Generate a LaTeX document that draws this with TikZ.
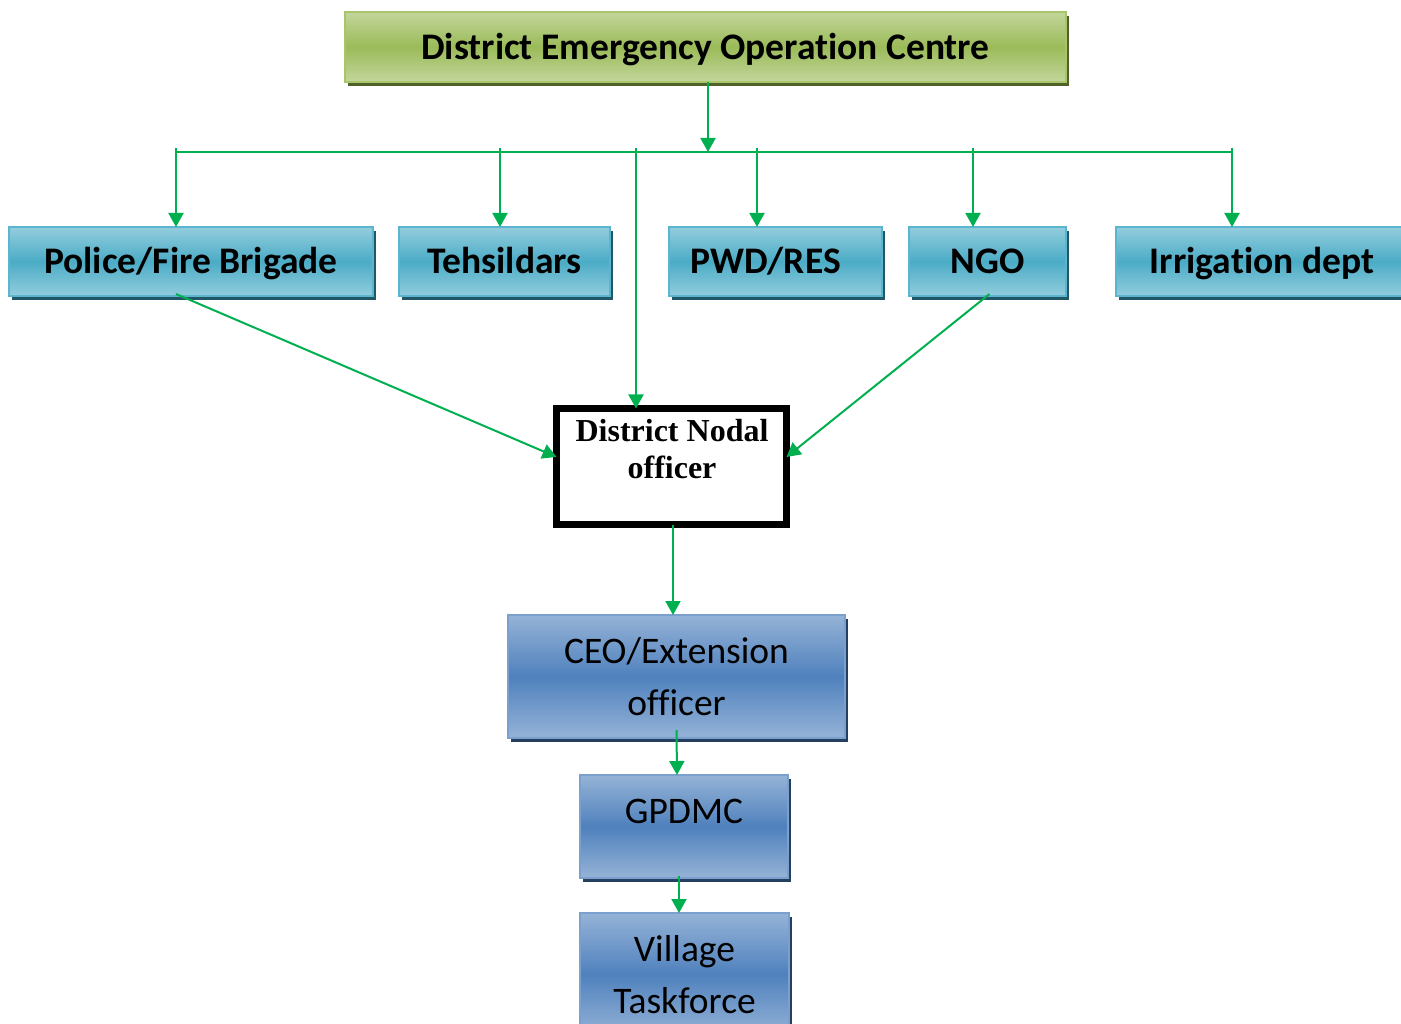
\documentclass[tikz,border=0pt]{standalone}
\usepackage{fontspec}
\setmainfont{Carlito}[Ligatures=NoCommon]
\newfontfamily\timesfont{Liberation Serif}
\usetikzlibrary{arrows.meta,shadows}

\definecolor{flowgreen}{HTML}{00B050}
\definecolor{greenlt}{HTML}{C3D69B}
\definecolor{greenmd}{HTML}{9BBB59}
\definecolor{greenbd}{HTML}{A9C46A}
\definecolor{greendk}{HTML}{4F6228}
\definecolor{teallt}{HTML}{93CDDD}
\definecolor{tealmd}{HTML}{4BACC6}
\definecolor{tealbd}{HTML}{5BB5CE}
\definecolor{tealdk}{HTML}{215868}
\definecolor{bluelt}{HTML}{95B3D7}
\definecolor{bluemd}{HTML}{4F81BD}
\definecolor{bluebd}{HTML}{7BA0CD}
\definecolor{bluedk}{HTML}{243F60}

% lower a label inside its box without changing the box's extent
\newcommand{\dropped}[2]{\raisebox{-#1}[\height][\depth]{#2}}

\tikzset{
  gbox/.style={draw=greenbd, line width=2pt, top color=greenlt, bottom color=greenlt,
    middle color=greenmd, outer sep=0pt, inner sep=0pt,
    drop shadow={shadow xshift=3pt, shadow yshift=-4pt, fill=greendk, opacity=1},
    font=\fontsize{37.5}{42}\selectfont\bfseries},
  tbox/.style={draw=tealbd, line width=2pt, top color=teallt, bottom color=teallt,
    middle color=tealmd, outer sep=0pt, inner sep=0pt, text height=27pt, text depth=8pt,
    drop shadow={shadow xshift=3pt, shadow yshift=-4pt, fill=tealdk, opacity=1},
    font=\fontsize{37.5}{42}\selectfont\bfseries},
  bbox/.style={draw=bluebd, line width=2pt, top color=bluelt, bottom color=bluelt,
    middle color=bluemd, outer sep=0pt, inner sep=0pt,
    drop shadow={shadow xshift=3pt, shadow yshift=-4pt, fill=bluedk, opacity=1}},
  btext/.style={font=\fontsize{37.5}{52}\selectfont, align=center, inner sep=0pt},
  nodalbox/.style={draw=black, line width=7pt, fill=white, outer sep=0pt, inner sep=0pt},
  flow/.style={draw=flowgreen, line width=2pt, -{Triangle[length=14pt,width=15pt]}},
  bus/.style={draw=flowgreen, line width=2pt},
}

\begin{document}
\begin{tikzpicture}[x=1pt,y=-1pt]
\useasboundingbox (0,0) rectangle (1401,1024);

% top level centre
\node[gbox, minimum width=721, minimum height=70] (deoc) at (705.5,47) {\dropped{3pt}{District Emergency Operation Centre}};

% line departments
\node[tbox, minimum width=364, minimum height=69] (police) at (191,261.5) {\dropped{3pt}{Police/Fire Brigade}};
\node[tbox, minimum width=211, minimum height=69] (tehsil) at (504.5,261.5) {\dropped{3pt}{Tehsildars}};
\node[tbox, minimum width=213, minimum height=69] (pwd) at (775.5,261.5) {\dropped{3pt}{\hspace*{-20pt}PWD/RES}};
\node[tbox, minimum width=157, minimum height=69] (ngo) at (987.5,261.5) {\dropped{3pt}{NGO}};
\node[tbox, minimum width=300, minimum height=69] (irr) at (1266,261.5) {\dropped{3pt}{\hspace*{-8pt}Irrigation dept}};

% nodal officer
\node[nodalbox, minimum width=230, minimum height=116] (nodal) at (671.5,466.5) {};
\node[font=\timesfont\fontsize{32}{37}\selectfont\bfseries, align=center, inner sep=0pt] (nodaltext) at (672,449) {District Nodal\\officer};

% block and village level
\node[bbox, minimum width=337, minimum height=123] (ceo) at (676.5,676.5) {};
\node[btext] (ceotext) at (676.5,677) {CEO/Extension\\officer};
\node[bbox, minimum width=208, minimum height=103] (gpdmc) at (684,826.5) {};
\node[btext] (gpdmctext) at (684,811) {GPDMC};
\node[bbox, minimum width=209, minimum height=123] (village) at (684.5,974.5) {};
\node[btext] (villagetext) at (684.5,975) {Village\\Taskforce};

% distribution bus
\coordinate (busmid) at (708,152);
\coordinate (busL) at (176,152);
\coordinate (busR) at (1232,152);
\coordinate (d1) at (176,148);
\coordinate (d2) at (500,148);
\coordinate (d3) at (636,148);
\coordinate (d4) at (757,148);
\coordinate (d5) at (973,148);
\coordinate (d6) at (1232,148);

\draw[flow] (deoc.south -| busmid) -- (busmid);
\draw[bus] (busL) -- (busR);
\draw[flow] (d1) -- (d1 |- police.north);
\draw[flow] (d2) -- (d2 |- tehsil.north);
\draw[flow] (d3) -- (d3 |- nodal.north);
\draw[flow] (d4) -- (d4 |- pwd.north);
\draw[flow] (d5) -- (d5 |- ngo.north);
\draw[flow] (d6) -- (d6 |- irr.north);

% reporting lines into the nodal officer
\draw[flow] ([xshift=-15pt,yshift=2pt]police.south) -- ([yshift=9.5pt]nodal.west);
\draw[flow] ([xshift=2pt,yshift=2pt]ngo.south) -- ([yshift=9.5pt]nodal.east);

% chain downwards
\draw[flow] ([xshift=1.5pt]nodal.south) -- ([xshift=-3.5pt]ceo.north);
\draw[flow] ([yshift=8pt]ceo.south) -- ([xshift=-7pt]gpdmc.north);
\draw[flow] ([xshift=-5pt,yshift=2pt]gpdmc.south) -- ([xshift=-5.5pt]village.north);
\end{tikzpicture}
\end{document}
